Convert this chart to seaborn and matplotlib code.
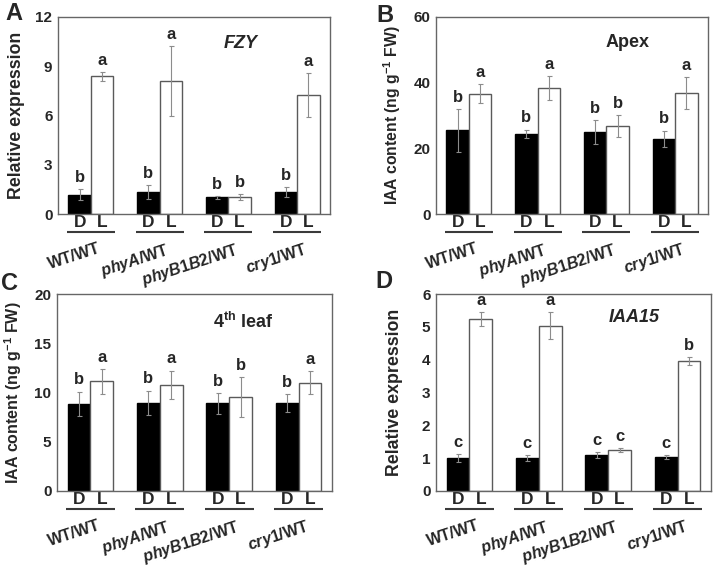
import numpy as np
import pandas as pd
import matplotlib
matplotlib.use("Agg")
import matplotlib.pyplot as plt
import seaborn as sns
from matplotlib.transforms import blended_transform_factory

# ---------------- data ----------------
genotypes = ["WT/WT", "phyA/WT", "phyB1B2/WT", "cry1/WT"]
genotype_labels = ["WT/WT", r"$\it{phyA}$/WT", r"$\it{phyB1B2}$/WT", r"$\it{cry1}$/WT"]
conditions = ["D", "L"]

fzy_dark = [1.18, 1.36, 1.01, 1.32]
fzy_light = [8.38, 8.11, 1.03, 7.24]
fzy_dark_err = [0.35, 0.42, 0.09, 0.30]
fzy_light_err = [0.27, 2.12, 0.20, 1.32]
fzy_dark_sig = ["b", "b", "b", "b"]
fzy_light_sig = ["a", "a", "b", "a"]

apex_dark = [25.5, 24.4, 25.0, 22.9]
apex_light = [36.7, 38.4, 26.8, 36.8]
apex_dark_err = [6.5, 1.3, 3.7, 2.5]
apex_light_err = [2.9, 3.6, 3.4, 4.9]
apex_dark_sig = ["b", "b", "b", "b"]
apex_light_sig = ["a", "a", "b", "a"]

leaf_dark = [8.84, 8.98, 8.90, 8.94]
leaf_light = [11.12, 10.80, 9.55, 10.98]
leaf_dark_err = [1.26, 1.22, 1.06, 0.89]
leaf_light_err = [1.27, 1.42, 2.05, 1.16]
leaf_dark_sig = ["b", "b", "b", "b"]
leaf_light_sig = ["a", "a", "b", "a"]

iaa15_dark = [1.00, 1.00, 1.09, 1.04]
iaa15_light = [5.24, 5.04, 1.24, 3.96]
iaa15_dark_err = [0.13, 0.10, 0.10, 0.06]
iaa15_light_err = [0.22, 0.42, 0.06, 0.11]
iaa15_dark_sig = ["c", "c", "c", "c"]
iaa15_light_sig = ["a", "a", "c", "b"]

# ---------------- style ----------------
sns.set_theme(style="white")
plt.rcParams["font.family"] = ["Liberation Sans", "DejaVu Sans"]
plt.rcParams["font.weight"] = "bold"
plt.rcParams["mathtext.fontset"] = "custom"
plt.rcParams["mathtext.rm"] = "Liberation Sans:bold"
plt.rcParams["mathtext.it"] = "Liberation Sans:italic:bold"
plt.rcParams["mathtext.bf"] = "Liberation Sans:bold"

W, H = 714, 566
fig = plt.figure(figsize=(W / 100, H / 100), dpi=100)


def px_axes(left, top, right, bottom):
    return fig.add_axes([left / W, 1 - bottom / H, (right - left) / W, (bottom - top) / H])


def draw_panel(ax, dark, light, dark_err, light_err, dark_sig, light_sig,
               ylim, yticks, ylabel, ylabel_size, title, title_style, title_xy):
    df = pd.DataFrame({
        "genotype": genotypes * 2,
        "condition": ["D"] * len(genotypes) + ["L"] * len(genotypes),
        "value": dark + light,
    })
    sns.barplot(data=df, x="genotype", y="value", hue="condition",
                order=genotypes, hue_order=conditions,
                palette={"D": "black", "L": "white"}, saturation=1,
                width=0.655, gap=0, errorbar=None, legend=False, ax=ax,
                linewidth=1.0, edgecolor="#5a5a5a", zorder=2)
    d_bars, l_bars = ax.containers[0], ax.containers[1]
    for b in d_bars:
        b.set_edgecolor("black")
    centers = []
    for bars, errs, sigs in ((d_bars, dark_err, dark_sig), (l_bars, light_err, light_sig)):
        for b, e, s in zip(bars, errs, sigs):
            x = b.get_x() + b.get_width() / 2
            h = b.get_height()
            centers.append((x, bars is d_bars))
            ax.errorbar(x, h, yerr=e, color="#8c8c8c", lw=0.8, capsize=1.8,
                        capthick=0.8, zorder=4)
            ax.annotate(s, (x, h + e), xytext=(0, 3), textcoords="offset points",
                        ha="center", va="bottom", fontsize=12, fontweight="bold")
    centers.sort()
    ax.set_xticks([c[0] for c in centers], ["D" if c[1] else "L" for c in centers])
    ax.tick_params(axis="x", length=0, pad=1, labelsize=12.5)
    ax.set_xlim(-0.48, 3.48)
    ax.set_ylim(*ylim)
    ax.set_yticks(yticks)
    ax.tick_params(axis="y", direction="in", length=3, width=0.8, color="#555",
                   pad=4, labelsize=11)
    for lab in ax.get_xticklabels() + ax.get_yticklabels():
        lab.set_fontweight("bold")
    ax.set_xlabel("")
    ax.set_ylabel(ylabel, fontsize=ylabel_size, fontweight="bold")
    ax.yaxis.set_label_coords(-0.12, 0.5)
    for sp in ax.spines.values():
        sp.set_visible(True)
        sp.set_color("#666666")
        sp.set_linewidth(1.0)
    trans = blended_transform_factory(ax.transData, ax.transAxes)
    for i, lab in enumerate(genotype_labels):
        ax.plot([i - 0.35, i + 0.35], [-0.093, -0.093], transform=trans,
                clip_on=False, color="#3a3a3a", lw=1.5, solid_capstyle="butt")
        ax.text(i + 0.1, -0.135, lab, transform=trans, rotation=18,
                rotation_mode="anchor", ha="right", va="top",
                fontsize=11.5, fontweight="bold")
    ax.text(title_xy[0], title_xy[1], title, transform=ax.transAxes,
            ha="center", va="center", fontsize=13, fontweight="bold",
            fontstyle=title_style)


axA = px_axes(58, 17, 330, 214)
axB = px_axes(436, 17, 708, 214)
axC = px_axes(57, 294, 332, 491)
axD = px_axes(436, 294, 711, 491)

draw_panel(axA, fzy_dark, fzy_light, fzy_dark_err, fzy_light_err, fzy_dark_sig, fzy_light_sig,
           (0, 12), [0, 3, 6, 9, 12], "Relative expression", 12.8, "FZY", "italic", (0.67, 0.868))
draw_panel(axB, apex_dark, apex_light, apex_dark_err, apex_light_err, apex_dark_sig, apex_light_sig,
           (0, 60), [0, 20, 40, 60], r"IAA content (ng g$^{-1}$ FW)", 11.3, "Apex", "normal", (0.706, 0.873))
draw_panel(axC, leaf_dark, leaf_light, leaf_dark_err, leaf_light_err, leaf_dark_sig, leaf_light_sig,
           (0, 20), [0, 5, 10, 15, 20], r"IAA content (ng g$^{-1}$ FW)", 11.5, r"4$^{\rm th}$ leaf", "normal", (0.678, 0.858))
draw_panel(axD, iaa15_dark, iaa15_light, iaa15_dark_err, iaa15_light_err, iaa15_dark_sig, iaa15_light_sig,
           (0, 6), [0, 1, 2, 3, 4, 5, 6], "Relative expression", 12.8, "IAA15", "italic", (0.72, 0.883))

for letter, (x, y) in zip("ABCD", [(14, 14), (385, 15), (10, 284), (384, 282)]):
    fig.text(x / W, 1 - y / H, letter, ha="center", va="center",
             fontsize=17, fontweight="bold")

fig.savefig("out.png", dpi=100)
